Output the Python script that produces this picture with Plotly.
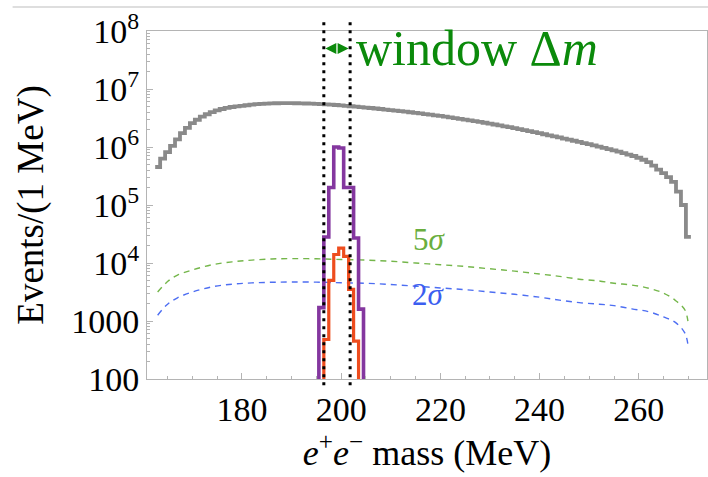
import plotly.graph_objects as go

# ---------------- data ----------------
gray_mass = list(range(163, 271))  # 1 MeV bin centres
gray_log10 = [
    5.655, 5.80, 5.91, 6.02, 6.13, 6.24, 6.33, 6.41, 6.47, 6.525,
    6.565, 6.60, 6.63, 6.655, 6.675, 6.69, 6.70, 6.71, 6.72, 6.73,
    6.738, 6.744, 6.749, 6.752, 6.754, 6.755, 6.755, 6.755, 6.754, 6.752,
    6.75, 6.747, 6.743, 6.739, 6.735, 6.73, 6.724, 6.717, 6.71, 6.703,
    6.696, 6.688, 6.68, 6.672, 6.664, 6.655, 6.646, 6.637, 6.628, 6.619,
    6.609, 6.599, 6.589, 6.579, 6.568, 6.557, 6.546, 6.535, 6.523, 6.511,
    6.499, 6.486, 6.473, 6.46, 6.446, 6.432, 6.418, 6.403, 6.388, 6.373,
    6.357, 6.341, 6.325, 6.308, 6.291, 6.274, 6.256, 6.238, 6.22, 6.202,
    6.184, 6.165, 6.146, 6.127, 6.108, 6.088, 6.068, 6.048, 6.028, 6.007,
    5.986, 5.964, 5.942, 5.919, 5.896, 5.87, 5.845, 5.815, 5.78, 5.74,
    5.68, 5.61, 5.55, 5.48, 5.40, 5.23, 5.00, 4.45,
]

purple_mass = [196, 197, 198, 199, 200, 201, 202, 203, 204]
purple_events = [1.7e3, 2.8e4, 2.0e5, 1.0e6, 9.6e5, 2.0e5, 2.0e5, 2.7e4, 1.6e3]

orange_mass = [197, 198, 199, 200, 201, 202, 203]
orange_events = [480, 5.0e3, 1.4e4, 1.8e4, 1.3e4, 3.5e3, 450]

sig5_mass = [163, 165, 167, 170, 174, 178, 182, 186, 190, 195, 200, 205, 210,
             215, 220, 225, 230, 235, 240, 244, 248, 252, 255, 258.6, 262,
             265, 267.3, 269.3, 270]
sig5_log10 = [3.50, 3.68, 3.79, 3.88, 3.97, 4.02, 4.05, 4.07, 4.075, 4.073,
              4.06, 4.05, 4.03, 4.00, 3.97, 3.94, 3.90, 3.86, 3.81, 3.77,
              3.72, 3.69, 3.65, 3.62, 3.565, 3.48, 3.36, 3.19, 2.93]

sig2_mass = sig5_mass
sig2_log10 = [3.10, 3.29, 3.40, 3.50, 3.59, 3.635, 3.657, 3.668, 3.672, 3.67,
              3.66, 3.65, 3.63, 3.60, 3.57, 3.54, 3.50, 3.46, 3.41, 3.36,
              3.316, 3.29, 3.265, 3.21, 3.16, 3.07, 2.98, 2.79, 2.53]

window_edges = [196.5, 201.8]

y_tickvals = [1e2, 1e3, 1e4, 1e5, 1e6, 1e7, 1e8]
y_ticktext = ["100", "1000", "10<sup>4</sup>", "10<sup>5</sup>",
              "10<sup>6</sup>", "10<sup>7</sup>", "10<sup>8</sup>"]
x_tickvals = [180, 200, 220, 240, 260]

# ---------------- helpers ----------------
def step_open(centers, vals):
    """Histogram outline without end drops (hv line)."""
    xs = [c - 0.5 for c in centers] + [centers[-1] + 0.5]
    ys = list(vals) + [vals[-1]]
    return xs, ys

def step_closed(centers, vals, floor=1.0):
    xs = [centers[0] - 0.5] + [c - 0.5 for c in centers] + [centers[-1] + 0.5]
    ys = [floor] + list(vals) + [floor]
    return xs, ys

SERIF = "Liberation Serif, Times New Roman, serif"
AXC = "#b4b4b4"
GREEN = "#0b8a0b"

fig = go.Figure()

gx, gy = step_open(gray_mass, [10 ** v for v in gray_log10])
fig.add_trace(go.Scatter(x=gx, y=gy, mode="lines", line_shape="hv",
                         line=dict(color="#8a8a8a", width=3.8), hoverinfo="skip"))

fig.add_trace(go.Scatter(x=sig5_mass, y=[10 ** v for v in sig5_log10], mode="lines",
                         line=dict(color="#74b64a", width=1.4, dash="6px,5px"),
                         line_shape="spline", hoverinfo="skip"))
fig.add_trace(go.Scatter(x=sig2_mass, y=[10 ** v for v in sig2_log10], mode="lines",
                         line=dict(color="#4d6ef2", width=1.4, dash="6px,5px"),
                         line_shape="spline", hoverinfo="skip"))

px_, py_ = step_closed(purple_mass, purple_events)
fig.add_trace(go.Scatter(x=px_, y=py_, mode="lines", line_shape="hv",
                         line=dict(color="#84379f", width=3.6), hoverinfo="skip"))
ox_, oy_ = step_closed(orange_mass, orange_events)
fig.add_trace(go.Scatter(x=ox_, y=oy_, mode="lines", line_shape="hv",
                         line=dict(color="#ee4d1e", width=3.2), hoverinfo="skip"))

# dotted window lines
for xe in window_edges:
    fig.add_shape(type="line", xref="x", yref="paper", x0=xe, x1=xe,
                  y0=-0.018, y1=1.026, line=dict(color="black", width=3, dash="3px,5px"),
                  layer="above")

# light page rule at top
fig.add_shape(type="line", xref="paper", yref="paper", x0=-0.24, x1=1.01,
              y0=1.069, y1=1.069, line=dict(color="#dedede", width=2))

# window arrow (double headed)
fig.add_annotation(x=201.5, y=7.70, ax=199.15, ay=7.70, xref="x", yref="y",
                   axref="x", ayref="y", text="", showarrow=True,
                   arrowhead=2, arrowsize=1.1, arrowwidth=2,
                   arrowcolor=GREEN)
fig.add_annotation(x=196.8, y=7.70, ax=199.15, ay=7.70, xref="x", yref="y",
                   axref="x", ayref="y", text="", showarrow=True,
                   arrowhead=2, arrowsize=1.1, arrowwidth=2,
                   arrowcolor=GREEN)
fig.add_annotation(x=202.5, y=7.70, xref="x", yref="y", xanchor="left",
                   yanchor="middle", showarrow=False,
                   text="window Δ<i>m</i>",
                   font=dict(family=SERIF, size=50, color=GREEN))

fig.add_annotation(x=217.9, y=4.40, xref="x", yref="y", showarrow=False,
                   text="5<i>σ</i>", font=dict(family=SERIF, size=31, color="#6aae3e"))
fig.add_annotation(x=217.6, y=3.45, xref="x", yref="y", showarrow=False,
                   text="2<i>σ</i>", font=dict(family=SERIF, size=31, color="#3c5ef0"))

minor_y = [k * 10 ** d for d in range(2, 8) for k in range(2, 10)]

fig.update_layout(
    width=708, height=477,
    margin=dict(l=147, r=1, t=31, b=98),
    paper_bgcolor="white", plot_bgcolor="white",
    showlegend=False,
    font=dict(family=SERIF, color="black"),
    xaxis=dict(range=[160.85, 273.75], showgrid=False, zeroline=False,
               showline=True, mirror=True, linecolor=AXC, linewidth=1,
               ticks="inside", ticklen=6, tickcolor=AXC, tickwidth=1,
               tickvals=x_tickvals, tickfont=dict(family=SERIF, size=34),
               minor=dict(ticks="inside", ticklen=3, tickcolor=AXC, dtick=5,
                          tick0=0, showgrid=False),
               title=dict(text="<i>e</i><sup>+</sup><i>e</i><sup>−</sup> mass (MeV)",
                          font=dict(family=SERIF, size=36), standoff=12)),
    yaxis=dict(type="log", range=[2, 8], showgrid=False, zeroline=False,
               showline=True, mirror=True, linecolor=AXC, linewidth=1,
               ticks="inside", ticklen=6, tickcolor=AXC, tickwidth=1,
               tickvals=y_tickvals, ticktext=y_ticktext,
               tickfont=dict(family=SERIF, size=34),
               minor=dict(ticks="inside", ticklen=3, tickcolor=AXC,
                          tickvals=minor_y, showgrid=False),
               title=dict(text="Events/(1 MeV)", font=dict(family=SERIF, size=37),
                          standoff=16)),
)

fig.write_html("out.html")
